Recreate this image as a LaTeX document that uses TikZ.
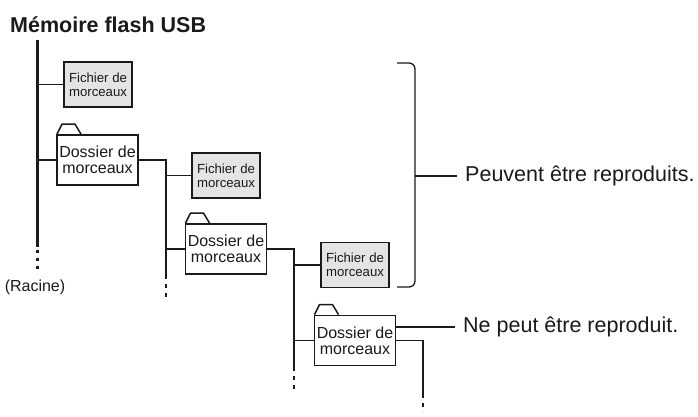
\documentclass[tikz,border=0pt]{standalone}
\usepackage{fontspec}
\setmainfont{Liberation Sans}
\definecolor{ink}{HTML}{1A1A1A}
\definecolor{filefill}{HTML}{E4E4E4}
\tikzset{
  filebox/.style={draw=ink, line width=1.8pt, fill=filefill, minimum width=68pt, minimum height=45pt,
    inner sep=0pt, align=center, text=ink, font=\fontsize{13.2}{13.6}\selectfont},
  folderbox/.style={draw=ink, line width=1.8pt, fill=white, minimum width=81pt, minimum height=50pt,
    inner sep=0pt, align=center, text=ink, font=\fontsize{16}{16.4}\selectfont},
  conn/.style={draw=ink, line width=1.3pt},
  rootline/.style={draw=ink, line width=3pt},
  dots/.style={draw=ink, line width=1.3pt, dash pattern=on 4pt off 5pt},
  rootdots/.style={draw=ink, line width=3pt, dash pattern=on 3pt off 5pt},
  lbl/.style={anchor=west, inner sep=0pt, text=ink, font=\fontsize{21.5}{24}\selectfont},
  tab/.style={draw=ink, line width=1.5pt, line join=round}
}
\begin{document}
\begin{tikzpicture}[x=1pt,y=-1pt]
\useasboundingbox (0,0) rectangle (698,416);
% title
\node[anchor=base west, inner sep=0pt, text=ink, font=\fontsize{21.5}{24}\selectfont\bfseries] (title) at (10,32) {Mémoire flash USB};
% root
\coordinate (rtop) at (37,40);
\coordinate (rbot) at (37,247);
\coordinate (rend) at (37,272);
\draw[rootline] (rtop) -- (rbot);
\draw[rootdots] (rbot) ++(0,3) -- (rend);
\node[inner sep=0pt, text=ink, font=\fontsize{16}{18}\selectfont] (racine) at (35,287) {(Racine)};
% nodes
\node[filebox] (f1) at (98,84.5) {Fichier de\\morceaux};
\node[folderbox] (d1) at (97.5,160) {Dossier de\\morceaux};
\node[filebox] (f2) at (226,175.5) {Fichier de\\morceaux};
\node[folderbox] (d2) at (226,249) {Dossier de\\morceaux};
\node[filebox] (f3) at (355,265) {Fichier de\\morceaux};
\node[folderbox] (d3) at (355,340.5) {Dossier de\\morceaux};
% folder tabs
\foreach \d in {d1,d2,d3}{
  \draw[tab] ([xshift=0.9pt]\d.north west) -- ++(5,-10) -- ++(13,0) -- ++(6,10);
}
% root connectors
\draw[conn] (f1.west) -- (f1.west -| rtop);
\draw[conn] (d1.west) -- (d1.west -| rtop);
% branch 1
\coordinate (b1) at (166,275);
\coordinate (b1e) at (166,301);
\draw[conn] (d1.east) -| (b1);
\draw[dots] (b1) -- (b1e);
\draw[conn] (f2.west) -- (f2.west -| b1);
\draw[conn] (d2.west) -- (d2.west -| b1);
% branch 2
\coordinate (b2) at (294,367);
\coordinate (b2e) at (294,393);
\draw[conn] (d2.east) -| (b2);
\draw[dots] (b2) -- (b2e);
\draw[conn] (f3.west) -- (f3.west -| b2);
\draw[conn] (d3.west) -- (d3.west -| b2);
% branch 3
\coordinate (b3) at (423,394);
\coordinate (b3e) at (423,412);
\draw[conn] (d3.east) -| (b3);
\draw[dots] (b3) -- (b3e);
% bracket
\coordinate (bt) at (397,63);
\coordinate (bb) at (397,287);
\coordinate (bm) at (415,176);
\draw[conn, rounded corners=6pt] (bt) -- (415,63) -- (415,287) -- (bb);
\node[lbl] (ok) at (465,176) {Peuvent être reproduits.};
\draw[conn] (bm) -- (ok.west -| 457,0);
% not playable
\node[lbl] (no) at (463,327) {Ne peut être reproduit.};
\draw[conn] (d3.east |- no.west) -- ([xshift=-8pt]no.west);
\end{tikzpicture}
\end{document}
